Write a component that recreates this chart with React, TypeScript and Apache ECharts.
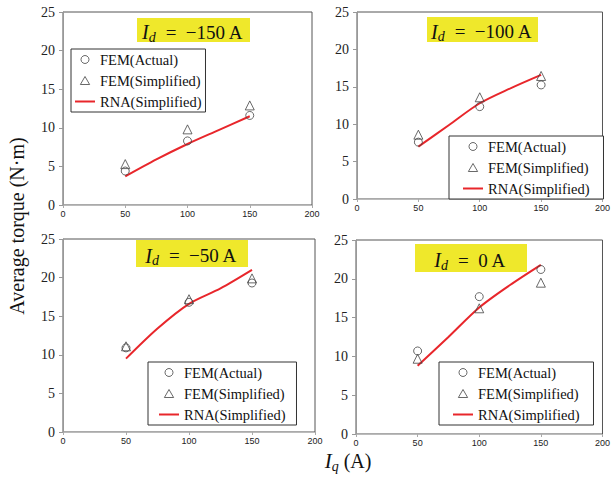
import React, { useEffect, useRef } from "react";
import * as echarts from "echarts";

const xFEM = [50, 100, 150];
const xRNA = [50, 75, 100, 125, 150];

const panelTitles = ["−150 A", "−100 A", "−50 A", "0 A"];

const femActual150 = [4.4, 8.3, 11.6];
const femSimp150 = [5.3, 9.8, 12.9];
const rna150 = [3.7, 5.9, 7.9, 9.7, 11.5];

const femActual100 = [7.6, 12.35, 15.25];
const femSimp100 = [8.6, 13.6, 16.45];
const rna100 = [7.0, 9.9, 12.8, 14.8, 16.6];

const femActual50 = [10.9, 16.8, 19.3];
const femSimp50 = [11.1, 17.2, 19.9];
const rna50 = [9.5, 13.4, 16.6, 18.6, 21.0];

const femActual0 = [10.7, 17.7, 21.2];
const femSimp0 = [9.7, 16.2, 19.5];
const rna0 = [8.8, 12.5, 16.3, 19.2, 21.8];

const xTicks = [0, 50, 100, 150, 200];
const yTicks = [0, 5, 10, 15, 20, 25];

const seriesNames = ["FEM(Actual)", "FEM(Simplified)", "RNA(Simplified)"];

const panels = [
  { actual: femActual150, simp: femSimp150, rna: rna150 },
  { actual: femActual100, simp: femSimp100, rna: rna100 },
  { actual: femActual50, simp: femSimp50, rna: rna50 },
  { actual: femActual0, simp: femSimp0, rna: rna0 },
];

const FONT = "'Liberation Serif', 'Times New Roman', serif";
const RED = "#E8262B";
const MARK = "#444";

const grids = [
  { left: 63, top: 12, width: 249, height: 193 },
  { left: 357, top: 12, width: 250, height: 187 },
  { left: 63, top: 239, width: 252, height: 193 },
  { left: 356, top: 240, width: 249, height: 194 },
];

const legendPos = [
  { left: 71, top: 49, padH: 4 },
  { left: 449, top: 136, padH: 14 },
  { left: 148, top: 362, padH: 11 },
  { left: 439, top: 362, padH: 14 },
];

const titleBoxes = [
  { x: 137, y: 18, w: 113, h: 24 },
  { x: 427, y: 17, w: 111, h: 25 },
  { x: 136, y: 240, w: 112, h: 27 },
  { x: 415, y: 244, w: 112, h: 28 },
];

const mathRich = {
  i: { fontFamily: FONT, fontStyle: "italic", fontSize: 20, lineHeight: 22, fill: "#111" },
  s: { fontFamily: FONT, fontStyle: "italic", fontSize: 14, lineHeight: 12, padding: [10, 0, 0, 0], fill: "#111" },
  n: { fontFamily: FONT, fontSize: 19, lineHeight: 22, fill: "#111" },
};

const TRI_ICON = "path://M5,0L10,8.66L0,8.66Z";
const LINE_ICON = "path://M0,0H20V2H0Z";

export default function App() {
  const ref = useRef<HTMLDivElement>(null);
  useEffect(() => {
    if (!ref.current) return;
    const chart = echarts.init(ref.current, undefined, { renderer: "svg" });

    const series: any[] = [];
    panels.forEach((p, i) => {
      series.push({
        name: seriesNames[0],
        type: "scatter",
        xAxisIndex: i,
        yAxisIndex: i,
        symbol: "circle",
        symbolSize: 8,
        itemStyle: { color: "rgba(0,0,0,0)", borderColor: MARK, borderWidth: 1 },
        data: xFEM.map((x, k) => [x, p.actual[k]]),
        z: 3,
      });
      series.push({
        name: seriesNames[1],
        type: "scatter",
        xAxisIndex: i,
        yAxisIndex: i,
        symbol: "triangle",
        symbolSize: 9,
        itemStyle: { color: "rgba(0,0,0,0)", borderColor: MARK, borderWidth: 1 },
        data: xFEM.map((x, k) => [x, p.simp[k]]),
        z: 3,
      });
      series.push({
        name: seriesNames[2],
        type: "line",
        xAxisIndex: i,
        yAxisIndex: i,
        symbol: "none",
        smooth: 0.3,
        lineStyle: { color: RED, width: 2 },
        itemStyle: { color: RED },
        data: xRNA.map((x, k) => [x, p.rna[k]]),
        z: 2,
      });
    });

    const graphic: any[] = [];
    titleBoxes.forEach((b, i) => {
      graphic.push({
        type: "rect",
        shape: { x: b.x, y: b.y, width: b.w, height: b.h },
        style: { fill: "#EFE82B" },
        z: 10,
      });
      graphic.push({
        type: "text",
        x: b.x + b.w / 2 - 1,
        y: b.y + b.h / 2 + 2,
        z: 11,
        style: {
          text: "{i|I}{s|d}{n|  =  " + panelTitles[i] + "}",
          rich: mathRich,
          align: "center",
          verticalAlign: "middle",
        },
      });
    });
    graphic.push({
      type: "text",
      x: 17,
      y: 226,
      rotation: Math.PI / 2,
      style: {
        text: "Average torque (N·m)",
        font: "20px " + FONT,
        fill: "#111",
        align: "center",
        verticalAlign: "middle",
      },
    });
    graphic.push({
      type: "text",
      x: 348,
      y: 461,
      style: {
        text: "{i|I}{s|q}{n| (A)}",
        rich: {
          i: { fontFamily: FONT, fontStyle: "italic", fontSize: 21, lineHeight: 22, fill: "#111" },
          s: { fontFamily: FONT, fontStyle: "italic", fontSize: 14, lineHeight: 12, padding: [10, 0, 0, 0], fill: "#111" },
          n: { fontFamily: FONT, fontSize: 20, lineHeight: 22, fill: "#111" },
        },
        align: "center",
        verticalAlign: "middle",
      },
    });

    const legendData = [
      {
        name: seriesNames[0],
        icon: "circle",
        itemStyle: { color: "rgba(0,0,0,0)", borderColor: MARK, borderWidth: 1 },
      },
      {
        name: seriesNames[1],
        icon: TRI_ICON,
        itemStyle: { color: "rgba(0,0,0,0)", borderColor: MARK, borderWidth: 1 },
      },
      {
        name: seriesNames[2],
        icon: LINE_ICON,
        itemStyle: { color: RED, borderWidth: 0 },
        lineStyle: { width: 0 },
      },
    ];

    chart.setOption({
      animation: false,
      backgroundColor: "#fff",
      grid: grids.map((g) => ({
        ...g,
        show: true,
        borderColor: "#555",
        borderWidth: 1,
        backgroundColor: "transparent",
      })),
      xAxis: grids.map((_, i) => ({
        type: "value",
        gridIndex: i,
        min: xTicks[0],
        max: xTicks[xTicks.length - 1],
        interval: xTicks[1] - xTicks[0],
        axisLine: { show: true, onZero: false, lineStyle: { color: "#bbb", width: 1 } },
        axisTick: { show: true, length: 3, lineStyle: { color: "#aaa" } },
        splitLine: { show: false },
        axisLabel: { fontSize: 9, fontFamily: "'Liberation Sans', Arial, sans-serif", color: "#222", margin: 4 },
      })),
      yAxis: grids.map((_, i) => ({
        type: "value",
        gridIndex: i,
        min: yTicks[0],
        max: yTicks[yTicks.length - 1],
        interval: yTicks[1] - yTicks[0],
        axisLine: { show: true, onZero: false, lineStyle: { color: "#999", width: 1 } },
        axisTick: { show: true, length: 4, lineStyle: { color: "#999" } },
        splitLine: { show: false },
        axisLabel: { fontSize: 14, fontFamily: FONT, color: "#222", margin: 8 },
      })),
      legend: legendPos.map((l) => ({
        orient: "vertical",
        left: l.left,
        top: l.top,
        itemWidth: 20,
        itemHeight: 8,
        itemGap: 6,
        symbolKeepAspect: true,
        padding: [3, l.padH, 3, l.padH],
        borderColor: "#333",
        borderWidth: 1,
        backgroundColor: "#fff",
        selectedMode: false,
        textStyle: { fontSize: 14.5, fontFamily: FONT, color: "#111", lineHeight: 14 },
        data: legendData,
      })),
      series,
      graphic,
    });

    return () => chart.dispose();
  }, []);

  return (
    <div
      ref={ref}
      style={{ position: "absolute", left: 0, top: 0, width: 613, height: 477 }}
    />
  );
}
